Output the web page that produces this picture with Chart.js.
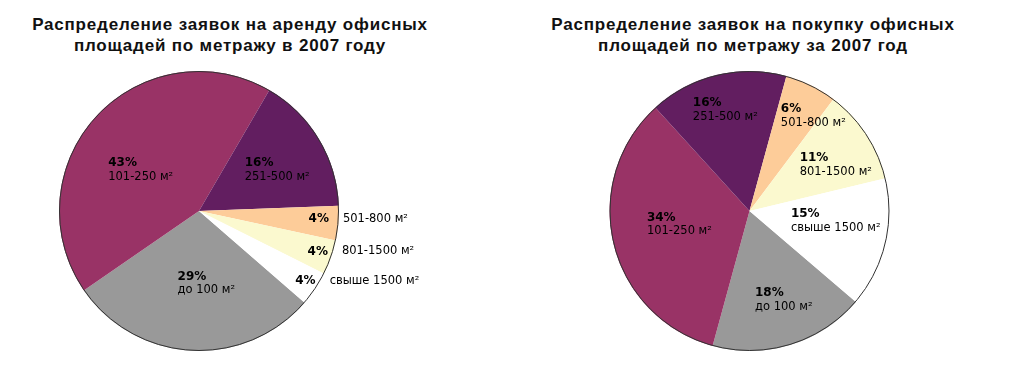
<!DOCTYPE html>
<html>
<head>
<meta charset="utf-8">
<script src="https://cdn.jsdelivr.net/npm/chart.js@4.4.1/dist/chart.umd.min.js"></script>
<style>
    body { margin: 0; background: #fff; }
    #wrap { position: relative; width: 1018px; height: 369px; overflow: hidden; }
    .title {
        position: absolute; top: 14px; width: 460px; text-align: center;
        font: bold 17px "Liberation Sans", Arial, sans-serif; line-height: 21px;
        letter-spacing: 0.8px; color: #111;
    }
    canvas { position: absolute; top: 0; }
</style>
</head>
<body>
<div id="wrap">
    <div class="title" style="left:0px">Распределение заявок на аренду офисных<br>площадей по метражу в 2007 году</div>
    <div class="title" style="left:523px">Распределение заявок на покупку офисных<br>площадей по метражу за 2007 год</div>
    <canvas id="rentChart" width="509" height="369" style="left:0px"></canvas>
    <canvas id="buyChart" width="509" height="369" style="left:509px"></canvas>
</div>
<script>
// Данные
const categories = ['до 100 м²', '101-250 м²', '251-500 м²', '501-800 м²', '801-1500 м²', 'свыше 1500 м²'];
const rentShares = [29, 43, 16, 4, 4, 4];
const buyShares = [18, 34, 16, 6, 11, 15];
const sliceColors = ['#999999', '#993366', '#621e60', '#fdcc99', '#fbf9cf', '#ffffff'];

// Подписи: доля радиуса и сдвиг угла (градусы)
const rentLabelPos = [
    { f: 0.52, a: -9 }, { f: 0.51, a: -7.5 }, { f: 0.63, a: 3.5 },
    { f: 0.93, a: -1.5, out: true }, { f: 0.965, a: -2, out: true }, { f: 0.97, a: -3, out: true }
];
const buyLabelPos = [
    { f: 0.68, a: -4 }, { f: 0.51, a: 2.6 }, { f: 0.74, a: 0 },
    { f: 0.82, a: 7.7 }, { f: 0.70, a: 5 }, { f: 0.62, a: -7 }
];

const sliceLabels = {
    id: 'sliceLabels',
    afterDatasetsDraw(chart, args, opts) {
        const ctx = chart.ctx;
        const meta = chart.getDatasetMeta(0);
        const values = chart.data.datasets[0].data;

        // контур круга
        const first = meta.data[0];
        ctx.save();
        ctx.beginPath();
        ctx.arc(first.x, first.y, first.outerRadius - 0.5, 0, Math.PI * 2);
        ctx.strokeStyle = '#333';
        ctx.lineWidth = 1;
        ctx.stroke();

        ctx.fillStyle = '#000';
        ctx.textBaseline = 'middle';
        const boldFont = 'bold 12px Verdana, "DejaVu Sans", sans-serif';
        const normFont = '11.5px Verdana, "DejaVu Sans", sans-serif';

        meta.data.forEach((arc, i) => {
            const p = opts.pos[i];
            const ang = (arc.startAngle + arc.endAngle) / 2 + p.a * Math.PI / 180;
            const px = arc.x + Math.cos(ang) * arc.outerRadius * p.f;
            const py = arc.y + Math.sin(ang) * arc.outerRadius * p.f;
            const pct = values[i] + '%';
            const name = chart.data.labels[i];

            if (p.out) {
                ctx.font = boldFont;
                ctx.textAlign = 'right';
                ctx.fillText(pct, px, py);
                ctx.font = normFont;
                ctx.textAlign = 'left';
                ctx.fillText(name, px + 14, py);
            } else {
                ctx.font = boldFont;
                const w1 = ctx.measureText(pct).width;
                ctx.font = normFont;
                const w2 = ctx.measureText(name).width;
                const left = px - Math.max(w1, w2) / 2;
                ctx.textAlign = 'left';
                ctx.font = boldFont;
                ctx.fillText(pct, left, py - 7);
                ctx.font = normFont;
                ctx.fillText(name, left, py + 7);
            }
        });
        ctx.restore();
    }
};

function makePie(id, values, rotation, padding, labelPos) {
    const ctx = document.getElementById(id).getContext('2d');
    return new Chart(ctx, {
        type: 'pie',
        data: {
            labels: categories,
            datasets: [{
                data: values,
                backgroundColor: sliceColors,
                borderWidth: 0
            }]
        },
        options: {
            responsive: false,
            animation: false,
            events: [],
            rotation: rotation,
            layout: { padding: padding },
            plugins: {
                legend: { display: false },
                tooltip: { enabled: false },
                sliceLabels: { pos: labelPos }
            }
        },
        plugins: [sliceLabels]
    });
}

makePie('rentChart', rentShares, 131, { left: 59, right: 170, top: 71, bottom: 18 }, rentLabelPos);
makePie('buyChart', buyShares, 130.5, { left: 100, right: 128, top: 71, bottom: 18 }, buyLabelPos);
</script>
</body>
</html>
